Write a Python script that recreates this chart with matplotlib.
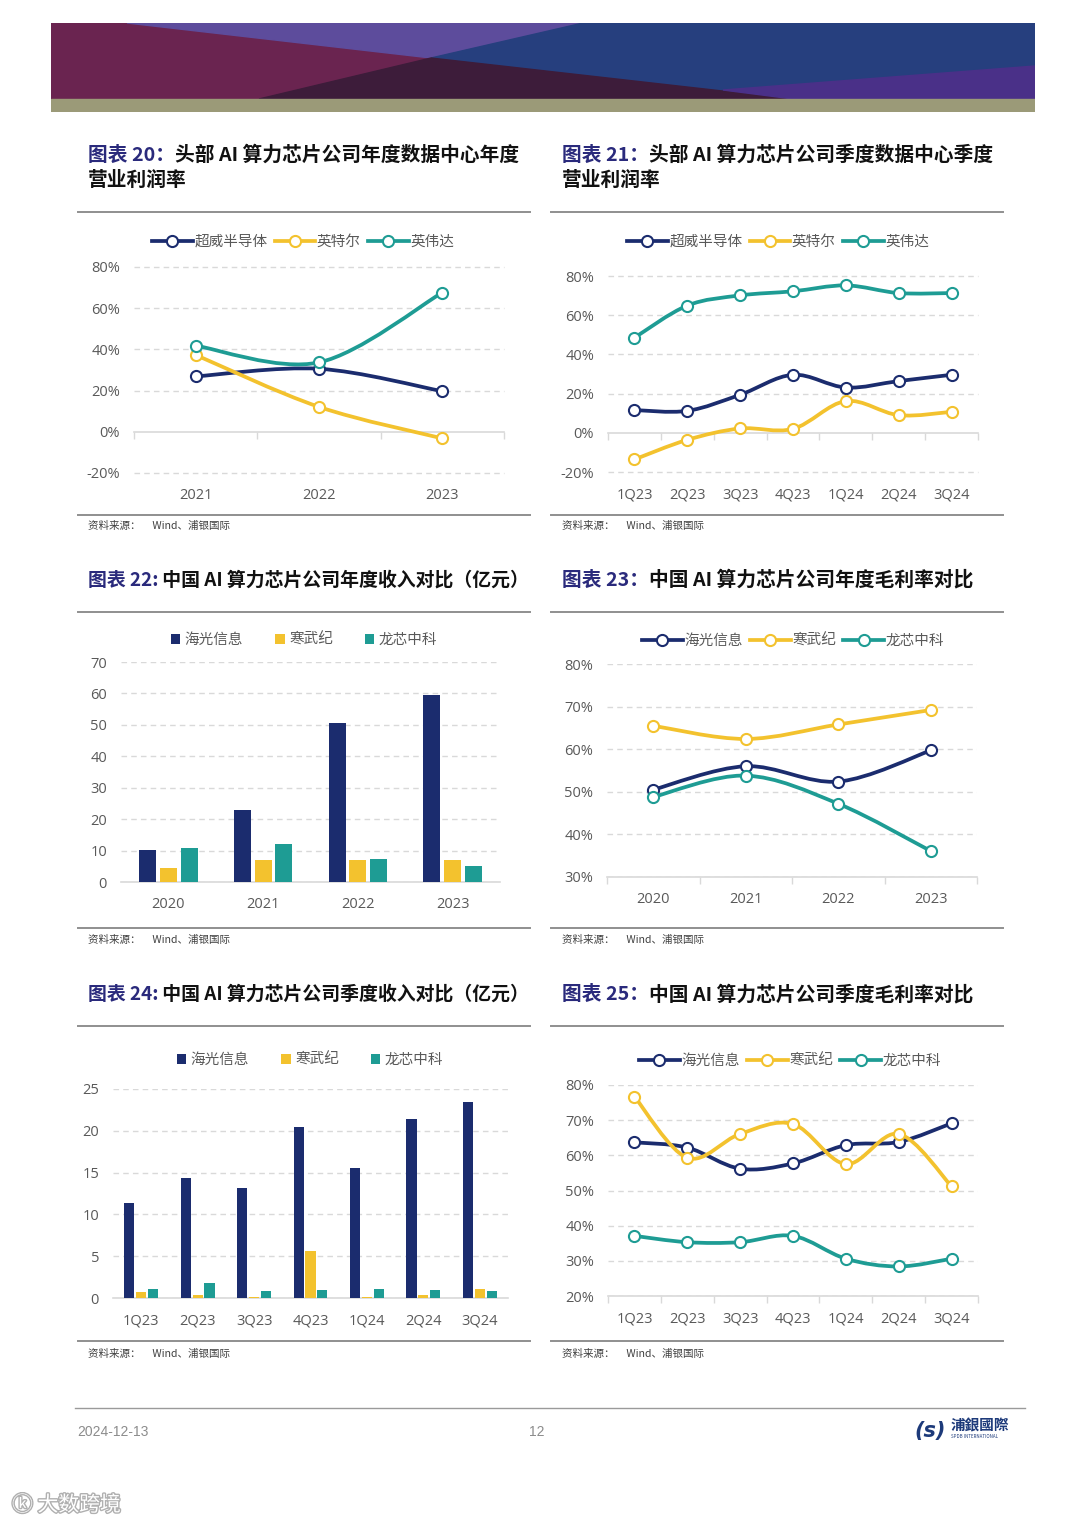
import numpy as np
import matplotlib
matplotlib.use("Agg")
import matplotlib.pyplot as plt
from matplotlib.path import Path
from matplotlib.patches import PathPatch, Polygon
from matplotlib.lines import Line2D
import matplotlib.patheffects as pe

plt.rcParams['font.family'] = ['Noto Sans CJK SC', 'DejaVu Sans']

W, H = 1080, 1527
NAVY = '#1b2c6e'
GOLD = '#f3c22e'
TEAL = '#1e9c94'
GRID = '#d9d9d9'
TXT = '#595959'
NUMFONT = ['Open Sans', 'DejaVu Sans']

# ---- data ----
us_names = ['超威半导体', '英特尔', '英伟达']
cn_names = ['海光信息', '寒武纪', '龙芯中科']

years_us = ['2021', '2022', '2023']
amd_year = [26.9, 30.6, 19.7]
intel_year = [37.3, 12.1, -3.2]
nvda_year = [41.8, 33.7, 67.6]

quarters = ['1Q23', '2Q23', '3Q23', '4Q23', '1Q24', '2Q24', '3Q24']
amd_q = [11.6, 11.2, 19.4, 29.6, 23.1, 26.4, 29.6]
intel_q = [-13.6, -3.6, 2.2, 2.0, 16.2, 9.0, 10.7]
nvda_q = [48.5, 64.9, 70.1, 72.2, 75.2, 71.3, 71.3]

years_cn = ['2020', '2021', '2022', '2023']
hygon_rev = [10.1, 22.9, 50.7, 59.4]
cambricon_rev = [4.6, 7.1, 7.1, 6.9]
loongson_rev = [10.7, 12.0, 7.3, 5.1]

hygon_gm = [50.5, 56.0, 52.4, 59.7]
cambricon_gm = [65.5, 62.4, 65.8, 69.2]
loongson_gm = [48.8, 53.8, 47.2, 36.1]

hygon_rev_q = [11.4, 14.3, 13.1, 20.4, 15.6, 21.4, 23.5]
cambricon_rev_q = [0.7, 0.3, 0.15, 5.6, 0.15, 0.3, 1.1]
loongson_rev_q = [1.1, 1.8, 0.8, 1.0, 1.1, 0.9, 0.8]

hygon_gm_q = [63.7, 62.2, 56.2, 57.7, 62.9, 63.8, 69.1]
cambricon_gm_q = [76.7, 59.3, 66.1, 68.9, 57.5, 66.1, 51.2]
loongson_gm_q = [37.1, 35.3, 35.3, 37.1, 30.6, 28.4, 30.6]

fig = plt.figure(figsize=(W / 100, H / 100), dpi=100)
fig.patch.set_facecolor('white')


def px_axes(x0, y0, x1, y1):
    return fig.add_axes([x0 / W, 1 - y1 / H, (x1 - x0) / W, (y1 - y0) / H])


def hline(x0, x1, y, color='#8f8f8f', lw=1.4):
    fig.add_artist(Line2D([x0 / W, x1 / W], [1 - y / H, 1 - y / H],
                          transform=fig.transFigure, color=color, lw=lw))


def smooth_line(ax, xs, ys, color):
    # bezier curve through the points, like the excel "smoothed line"
    pts = np.column_stack([np.asarray(xs, float), np.asarray(ys, float)])
    n = len(pts)
    verts = [pts[0]]
    codes = [Path.MOVETO]
    for i in range(n - 1):
        p0 = pts[max(i - 1, 0)]
        p1 = pts[i]
        p2 = pts[i + 1]
        p3 = pts[min(i + 2, n - 1)]
        verts += [p1 + (p2 - p0) / 6, p2 - (p3 - p1) / 6, p2]
        codes += [Path.CURVE4] * 3
    ax.add_patch(PathPatch(Path(verts, codes), fill=False, edgecolor=color,
                           lw=2.7, capstyle='round', joinstyle='round', zorder=3))
    ax.plot(xs, ys, 'o', ms=8, mfc='white', mec=color, mew=1.5, zorder=4)


def style_axes(ax, cats, ylim, yticks, fmt):
    ax.set_xlim(-0.5, len(cats) - 0.5)
    ax.set_ylim(*ylim)
    ax.set_yticks(yticks)
    ax.set_yticklabels([fmt(v) for v in yticks], fontfamily=NUMFONT, fontsize=10.5, color=TXT)
    ax.set_xticks(range(len(cats)))
    ax.set_xticklabels(cats, fontfamily=NUMFONT, fontsize=10.5, color=TXT)
    ax.tick_params(axis='both', length=0)
    ax.tick_params(axis='x', pad=11)
    ax.tick_params(axis='y', pad=10)
    for s in ['top', 'right', 'left']:
        ax.spines[s].set_visible(False)
    ax.set_axisbelow(True)
    ax.yaxis.grid(True, color=GRID, lw=1.0, ls=(0, (4, 3)))


def line_legend(ax, names, colors, cx, cy):
    handles = [Line2D([], [], color=c, lw=2.7, marker='o', ms=8, mfc='white', mec=c, mew=1.5)
               for c in colors]
    ax.legend(handles, names, loc='center', bbox_to_anchor=(cx / W, 1 - cy / H),
              bbox_transform=fig.transFigure, ncol=3, frameon=False, numpoints=1,
              handlelength=2.8, handletextpad=0.1, columnspacing=0.5,
              prop={'size': 10.5}, labelcolor=TXT)


def bar_legend(ax, bars, names, cx, cy):
    ax.legend(bars, names, loc='center', bbox_to_anchor=(cx / W, 1 - cy / H),
              bbox_transform=fig.transFigure, ncol=3, frameon=False,
              handlelength=0.65, handleheight=0.65, handletextpad=0.3, columnspacing=2.2,
              prop={'size': 10.5}, labelcolor=TXT)


pct = lambda v: f'{v}%'
num = lambda v: f'{v}'


def line_chart(box, cats, series, names, colors, ylim, yticks, zero_at, leg):
    ax = px_axes(*box)
    style_axes(ax, cats, ylim, yticks, pct)
    ax.spines['bottom'].set_visible(False)
    for ys, c in zip(series, colors):
        smooth_line(ax, range(len(cats)), ys, c)
    # category axis line with tick marks
    frac = (zero_at - ylim[0]) / (ylim[1] - ylim[0])
    sec = ax.secondary_xaxis(frac)
    sec.set_xticks(np.arange(len(cats) + 1) - 0.5)
    sec.tick_params(axis='x', length=5, width=1, color=GRID, labelbottom=False, labeltop=False)
    sec.spines['bottom'].set_color(GRID)
    sec.spines['bottom'].set_linewidth(1.2)
    if zero_at != ylim[0]:
        ax.yaxis.grid(False)
        for v in yticks:
            if v != zero_at:
                ax.axhline(v, color=GRID, lw=1.0, ls=(0, (4, 3)), zorder=0, clip_on=False)
    line_legend(ax, names, colors, *leg)
    return ax


def bar_chart(box, cats, series, names, colors, ylim, yticks, width, offset, leg):
    ax = px_axes(*box)
    style_axes(ax, cats, ylim, yticks, num)
    ax.spines['bottom'].set_color(GRID)
    ax.spines['bottom'].set_linewidth(1.2)
    x = np.arange(len(cats))
    bars = []
    for k, (vals, c) in enumerate(zip(series, colors)):
        bars.append(ax.bar(x + (k - 1) * offset, vals, width=width, color=c, zorder=3))
    bar_legend(ax, bars, names, *leg)
    return ax


# ---- header banner ----
bax = px_axes(51, 23, 1035, 112)
bax.set_xlim(51, 1035)
bax.set_ylim(112, 23)
bax.axis('off')
bax.add_patch(Polygon([(51, 23), (1035, 23), (1035, 99), (51, 99)], color='#22407e'))
bax.add_patch(Polygon([(51, 23), (127, 23), (431, 58), (259, 99), (51, 99)], color='#6a2450'))
bax.add_patch(Polygon([(127, 23), (583, 23), (431, 58)], color='#5d4c9c'))
bax.add_patch(Polygon([(583, 23), (1035, 23), (1035, 66), (723, 90), (793, 99), (431, 58)], color='#263f7e'))
bax.add_patch(Polygon([(431, 58), (793, 99), (259, 99)], color='#3d1c3a'))
bax.add_patch(Polygon([(723, 90), (1035, 66), (1035, 99), (793, 99)], color='#4a3088'))
bax.add_patch(Polygon([(51, 99), (1035, 99), (1035, 112), (51, 112)], color='#9b9a78'))

# ---- titles ----
TITLE_C = '#2a2a7c'
TSIZE = 14.2


def title(x, y, prefix, rest, line2=None, size=TSIZE):
    t = fig.text(x / W, 1 - y / H, prefix, color=TITLE_C, fontsize=size, fontweight='bold', va='center')
    plt.annotate(rest, xy=(1, 0.5), xycoords=t, va='center', ha='left',
                 fontsize=size, fontweight='bold', color='#111111', annotation_clip=False)
    if line2:
        fig.text(x / W, 1 - (y + 25) / H, line2, color='#111111', fontsize=size, fontweight='bold', va='center')


def source(x, y):
    fig.text(x / W, 1 - y / H, '资料来源：     Wind、浦银国际', fontsize=7.6, color='#404040', va='center')


# chart 20
title(88, 155, '图表 20：', '头部 AI 算力芯片公司年度数据中心年度', '营业利润率')
hline(78, 530, 212)
line_chart((134, 267, 504, 473), years_us, [amd_year, intel_year, nvda_year], us_names,
           [NAVY, GOLD, TEAL], (-20, 80), [-20, 0, 20, 40, 60, 80], 0, (303, 242))
hline(78, 530, 515)
source(88, 526)

# chart 21
title(562, 155, '图表 21：', '头部 AI 算力芯片公司季度数据中心季度', '营业利润率')
hline(551, 1003, 212)
line_chart((608, 276, 978, 472), quarters, [amd_q, intel_q, nvda_q], us_names,
           [NAVY, GOLD, TEAL], (-20, 80), [-20, 0, 20, 40, 60, 80], 0, (778, 242))
hline(551, 1003, 515)
source(562, 526)

# chart 22
title(88, 580, '图表 22:', ' 中国 AI 算力芯片公司年度收入对比（亿元）', size=13.6)
hline(78, 530, 612)
bar_chart((121, 662, 500, 882), years_cn, [hygon_rev, cambricon_rev, loongson_rev], cn_names,
          [NAVY, GOLD, TEAL], (0, 70), list(range(0, 71, 10)), 0.18, 0.22, (304, 640))
hline(78, 530, 928)
source(88, 940)

# chart 23
title(562, 580, '图表 23：', '中国 AI 算力芯片公司年度毛利率对比')
hline(551, 1003, 612)
line_chart((607, 664, 977, 877), years_cn, [hygon_gm, cambricon_gm, loongson_gm], cn_names,
           [NAVY, GOLD, TEAL], (30, 80), [30, 40, 50, 60, 70, 80], 30, (793, 641))
hline(551, 1003, 928)
source(562, 940)

# chart 24
title(88, 994, '图表 24:', ' 中国 AI 算力芯片公司季度收入对比（亿元）', size=13.6)
hline(78, 530, 1026)
bar_chart((113, 1089, 508, 1298), quarters, [hygon_rev_q, cambricon_rev_q, loongson_rev_q], cn_names,
          [NAVY, GOLD, TEAL], (0, 25), list(range(0, 26, 5)), 0.18, 0.21, (310, 1060))
hline(78, 530, 1341)
source(88, 1354)

# chart 25
title(562, 994, '图表 25：', '中国 AI 算力芯片公司季度毛利率对比')
hline(551, 1003, 1026)
line_chart((608, 1085, 978, 1296), quarters, [hygon_gm_q, cambricon_gm_q, loongson_gm_q], cn_names,
           [NAVY, GOLD, TEAL], (20, 80), [20, 30, 40, 50, 60, 70, 80], 20, (790, 1061))
hline(551, 1003, 1341)
source(562, 1354)

# ---- footer ----
hline(75, 1025, 1408, color='#9a9a9a', lw=1.0)
fig.text(77 / W, 1 - 1432 / H, '2024-12-13', fontsize=10, color='#8c8c8c', va='center',
         fontfamily=['Liberation Sans Narrow', 'Liberation Sans'])
fig.text(537 / W, 1 - 1432 / H, '12', fontsize=10, color='#8c8c8c', va='center', ha='center',
         fontfamily=['Liberation Sans Narrow', 'Liberation Sans'])
fig.text(930 / W, 1 - 1431 / H, '(s)', fontsize=15, color='#1d3a7a', va='center', ha='center',
         fontweight='bold', fontstyle='italic', fontfamily=['DejaVu Sans'])
fig.text(951 / W, 1 - 1425 / H, '浦銀國際', fontsize=10.5, color='#1d3a7a', va='center',
         fontweight='bold', fontfamily=['Noto Sans CJK TC', 'DejaVu Sans'])
fig.text(951 / W, 1 - 1437 / H, 'SPDB INTERNATIONAL', fontsize=3.2, color='#1d3a7a', va='center')
wm = fig.text(12 / W, 1 - 1505 / H, 'ⓚ 大数跨境', fontsize=15, color='white', va='center',
              fontfamily=['Noto Sans CJK SC', 'DejaVu Sans'])
wm.set_path_effects([pe.withStroke(linewidth=2, foreground='#b0b0b0')])

fig.savefig('out.png', dpi=100, facecolor='white')
